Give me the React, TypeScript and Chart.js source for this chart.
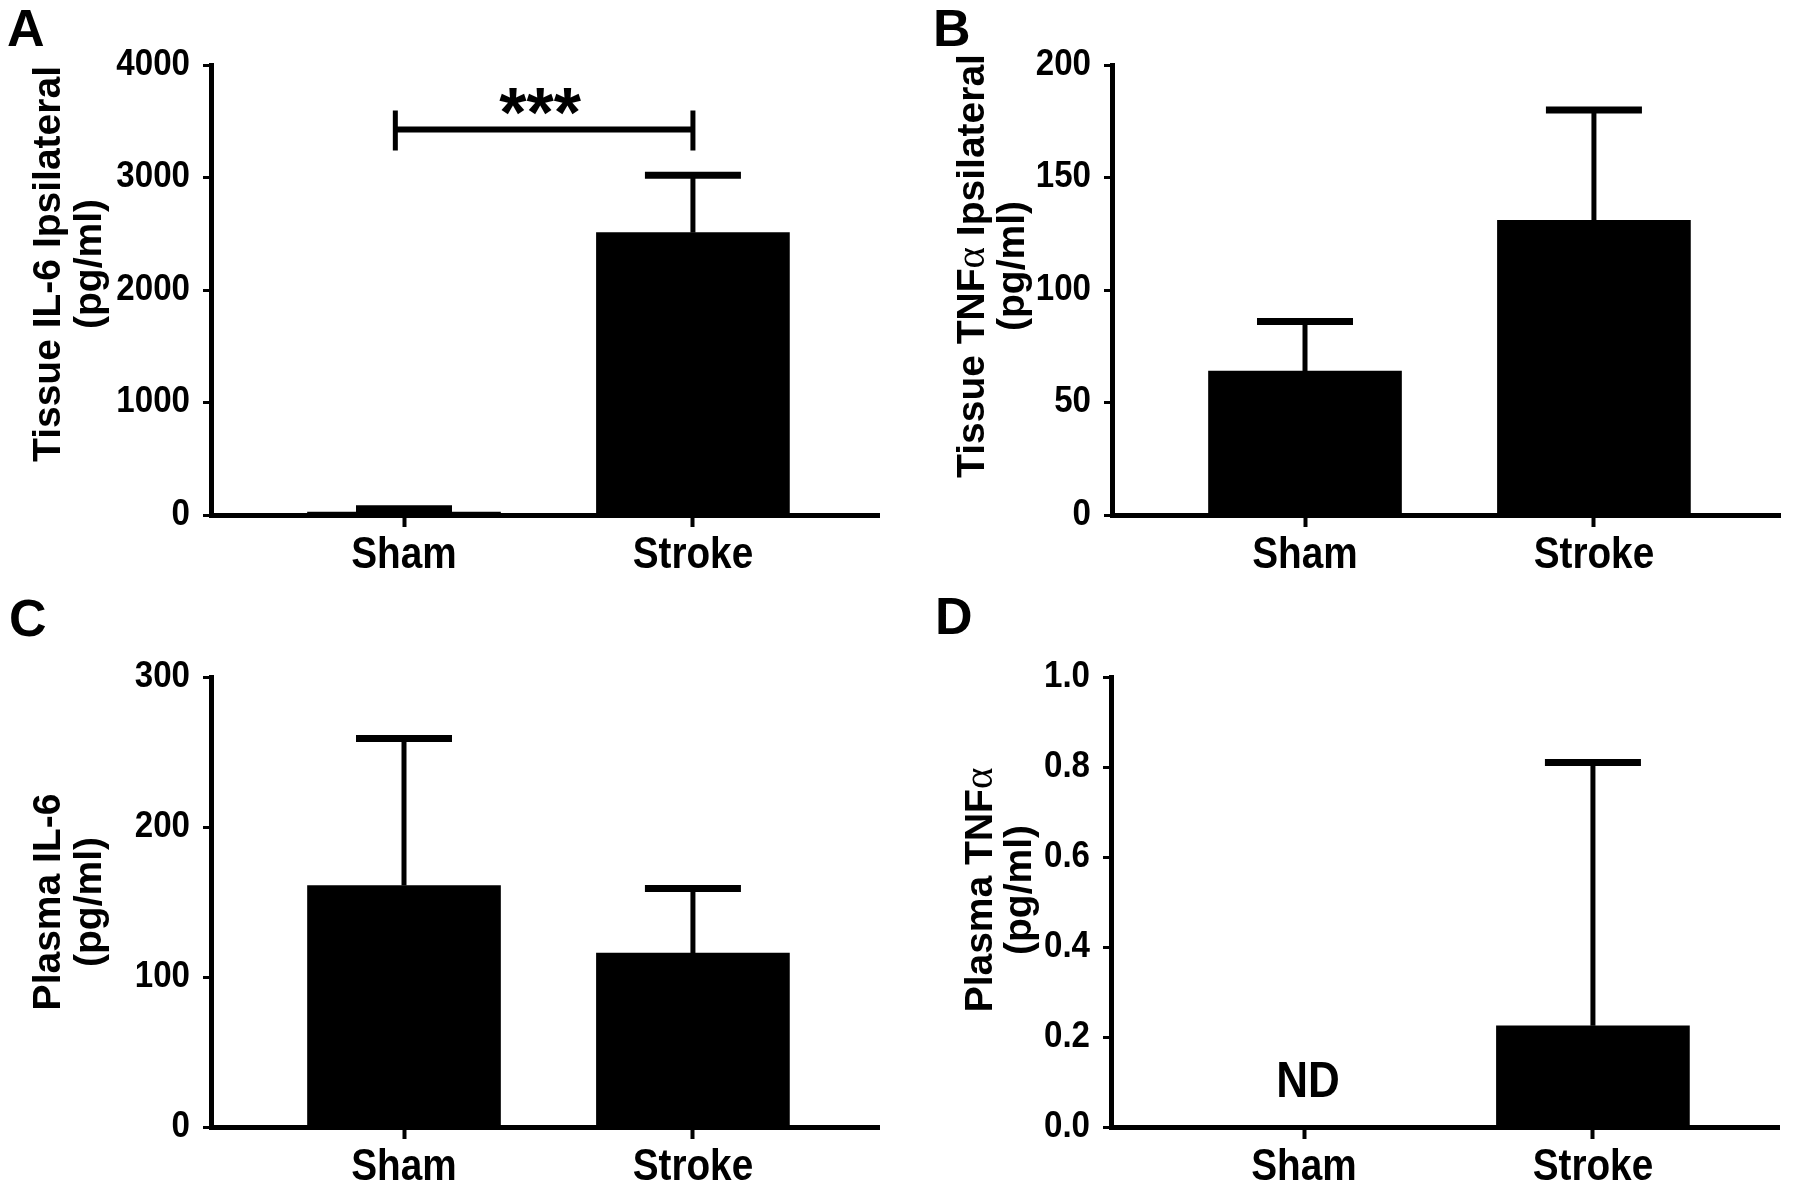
import React, { useEffect, useRef } from 'react';
import { Chart, registerables } from 'chart.js';

Chart.register(...registerables);

// ---------------- data ----------------
const categories = ['Sham', 'Stroke'];
const categoryX = [1, 2];

const tissueIL6Means = [25, 2510];
const tissueIL6Upper = [55, 3020];
const tissueIL6Ticks = [0, 1000, 2000, 3000, 4000];

const tissueTNFMeans = [64, 131];
const tissueTNFUpper = [86, 180];
const tissueTNFTicks = [0, 50, 100, 150, 200];

const plasmaIL6Means = [161, 116];
const plasmaIL6Upper = [259, 159];
const plasmaIL6Ticks = [0, 100, 200, 300];

const plasmaTNFMeans: (number | null)[] = [null, 0.225];
const plasmaTNFUpper: (number | null)[] = [null, 0.81];
const plasmaTNFTicks = [0, 0.2, 0.4, 0.6, 0.8, 1.0];

// significance annotation for panel A (Sham vs Stroke)
const sigFrom = 0.97;
const sigTo = 2;
const sigLevel = 3427;
const sigTop = 3596;
const sigBottom = 3240;
const sigLabel = '***';
const sigLabelBaseline = 3360;

// not-detected annotation for panel D
const ndLabel = 'ND';
const ndIndex = 0;
const ndValue = 0.098;

// ---------------- styles ----------------
const SANS = '"Liberation Sans", Arial, sans-serif';
const SERIF = '"Liberation Serif", "DejaVu Serif", serif';
const CONDENSE = 0.88;

type Seg = { t: string; font?: string };

type PanelCfg = {
  letter: string;
  title: Seg[][];
  means: (number | null)[];
  upper: (number | null)[];
  ticks: number[];
  decimals: number;
  canvas: { x: number; y: number; w: number; h: number };
  area: { l: number; t: number; r: number; b: number };
  letterPos: { x: number; y: number };
  titleX: number[];
  titleY: number;
  sig?: boolean;
  nd?: boolean;
};

const TITLE_FONT = `bold 39px ${SANS}`;
const ALPHA_FONT = `normal 41px ${SERIF}`;

const panels: PanelCfg[] = [
  {
    letter: 'A',
    title: [[{ t: 'Tissue IL-6 Ipsilateral' }], [{ t: '(pg/ml)' }]],
    means: tissueIL6Means,
    upper: tissueIL6Upper,
    ticks: tissueIL6Ticks,
    decimals: 0,
    canvas: { x: 0, y: 0, w: 900, h: 596 },
    area: { l: 211, t: 65, r: 879, b: 515 },
    letterPos: { x: 7, y: 46 },
    titleX: [49, 90],
    titleY: 264,
    sig: true,
  },
  {
    letter: 'B',
    title: [[{ t: 'Tissue TNF' }, { t: 'α', font: ALPHA_FONT }, { t: ' Ipsilateral' }], [{ t: '(pg/ml)' }]],
    means: tissueTNFMeans,
    upper: tissueTNFUpper,
    ticks: tissueTNFTicks,
    decimals: 0,
    canvas: { x: 900, y: 0, w: 900, h: 596 },
    area: { l: 212, t: 65, r: 880, b: 515 },
    letterPos: { x: 33, y: 46 },
    titleX: [73, 113],
    titleY: 266,
  },
  {
    letter: 'C',
    title: [[{ t: 'Plasma IL-6' }], [{ t: '(pg/ml)' }]],
    means: plasmaIL6Means,
    upper: plasmaIL6Upper,
    ticks: plasmaIL6Ticks,
    decimals: 0,
    canvas: { x: 0, y: 596, w: 900, h: 595 },
    area: { l: 211, t: 81, r: 879, b: 531 },
    letterPos: { x: 9, y: 40 },
    titleX: [49, 90],
    titleY: 306,
  },
  {
    letter: 'D',
    title: [[{ t: 'Plasma TNF' }, { t: 'α', font: ALPHA_FONT }], [{ t: '(pg/ml)' }]],
    means: plasmaTNFMeans,
    upper: plasmaTNFUpper,
    ticks: plasmaTNFTicks,
    decimals: 1,
    canvas: { x: 900, y: 596, w: 900, h: 595 },
    area: { l: 211, t: 81, r: 879, b: 531 },
    letterPos: { x: 35, y: 38 },
    titleX: [81, 120],
    titleY: 294,
    nd: true,
  },
];

const X_MIN = 0.332;
const X_MAX = 2.644;

function drawRotatedTitle(ctx: CanvasRenderingContext2D, segs: Seg[], cx: number, cy: number) {
  ctx.save();
  ctx.translate(cx, cy);
  ctx.rotate(-Math.PI / 2);
  ctx.textBaseline = 'middle';
  ctx.textAlign = 'left';
  ctx.fillStyle = '#000';
  let total = 0;
  const widths = segs.map((s) => {
    ctx.font = s.font || TITLE_FONT;
    const w = ctx.measureText(s.t).width;
    total += w;
    return w;
  });
  let x = -total / 2;
  segs.forEach((s, i) => {
    ctx.font = s.font || TITLE_FONT;
    ctx.fillText(s.t, x, 0);
    x += widths[i];
  });
  ctx.restore();
}

function drawCondensed(
  ctx: CanvasRenderingContext2D,
  text: string,
  x: number,
  y: number,
  font: string,
  align: CanvasTextAlign,
  factor = CONDENSE
) {
  ctx.save();
  ctx.translate(x, y);
  ctx.scale(factor, 1);
  ctx.font = font;
  ctx.textAlign = align;
  ctx.textBaseline = 'middle';
  ctx.fillStyle = '#000';
  ctx.fillText(text, 0, 0);
  ctx.restore();
}

function Panel({ cfg }: { cfg: PanelCfg }) {
  const ref = useRef<HTMLCanvasElement>(null);

  useEffect(() => {
    const canvas = ref.current;
    if (!canvas) return;
    const { w, h } = cfg.canvas;
    const area = cfg.area;

    const overlay = {
      id: 'overlay' + cfg.letter,
      afterDatasetsDraw(chart: any) {
        const ctx: CanvasRenderingContext2D = chart.ctx;
        const xs = chart.scales.x;
        const ys = chart.scales.y;
        ctx.save();
        ctx.strokeStyle = '#000';
        ctx.lineCap = 'butt';
        cfg.means.forEach((m, i) => {
          const u = cfg.upper[i];
          if (m == null || u == null) return;
          const px = xs.getPixelForValue(categoryX[i]);
          const p0 = ys.getPixelForValue(m);
          const p1 = ys.getPixelForValue(u);
          ctx.lineWidth = 5;
          ctx.beginPath();
          ctx.moveTo(px, p0);
          ctx.lineTo(px, p1);
          ctx.stroke();
          ctx.lineWidth = 7;
          ctx.beginPath();
          ctx.moveTo(px - 48, p1);
          ctx.lineTo(px + 48, p1);
          ctx.stroke();
        });
        ctx.restore();
      },
      afterDraw(chart: any) {
        const ctx: CanvasRenderingContext2D = chart.ctx;
        const xs = chart.scales.x;
        const ys = chart.scales.y;
        ctx.save();
        ctx.fillStyle = '#000';
        ctx.strokeStyle = '#000';
        // panel letter
        ctx.font = `bold 52px ${SANS}`;
        ctx.textAlign = 'left';
        ctx.textBaseline = 'alphabetic';
        ctx.fillText(cfg.letter, cfg.letterPos.x, cfg.letterPos.y);
        // tick labels (condensed bold)
        const yFont = `bold 36px ${SANS}`;
        cfg.ticks.forEach((v) => {
          drawCondensed(ctx, v.toFixed(cfg.decimals), ys.left + ys.width - 21, ys.getPixelForValue(v), yFont, 'right', 0.92);
        });
        const xFont = `bold 44px ${SANS}`;
        categoryX.forEach((v, i) => {
          drawCondensed(ctx, categories[i], xs.getPixelForValue(v), xs.top + 41, xFont, 'center');
        });
        // y title
        cfg.title.forEach((line, i) => drawRotatedTitle(ctx, line, cfg.titleX[i], cfg.titleY));
        // significance bracket
        if (cfg.sig) {
          const x1 = xs.getPixelForValue(sigFrom);
          const x2 = xs.getPixelForValue(sigTo);
          const yl = ys.getPixelForValue(sigLevel);
          const yt = ys.getPixelForValue(sigTop);
          const yb = ys.getPixelForValue(sigBottom);
          ctx.lineWidth = 6;
          ctx.beginPath();
          ctx.moveTo(x1, yl);
          ctx.lineTo(x2, yl);
          ctx.stroke();
          ctx.lineWidth = 5;
          ctx.beginPath();
          ctx.moveTo(x1, yt);
          ctx.lineTo(x1, yb);
          ctx.moveTo(x2, yt);
          ctx.lineTo(x2, yb);
          ctx.stroke();
          ctx.font = `bold 70px ${SANS}`;
          ctx.textAlign = 'center';
          ctx.textBaseline = 'alphabetic';
          ctx.fillText(sigLabel, (x1 + x2) / 2 - 4, ys.getPixelForValue(sigLabelBaseline));
        }
        if (cfg.nd) {
          drawCondensed(ctx, ndLabel, xs.getPixelForValue(categoryX[ndIndex]) + 4, ys.getPixelForValue(ndValue), `bold 50px ${SANS}`, 'center');
        }
        ctx.restore();
      },
    };

    const data = cfg.means.map((m, i) => ({ x: categoryX[i], y: m }));

    const chart = new Chart(canvas, {
      type: 'bar',
      data: {
        datasets: [
          {
            data: data as any,
            backgroundColor: '#000',
            borderWidth: 0,
            barThickness: 193,
          },
        ],
      },
      options: {
        animation: false,
        responsive: false,
        maintainAspectRatio: false,
        devicePixelRatio: 1,
        layout: { padding: { left: 0, top: area.t, right: w - area.r, bottom: 0 } },
        plugins: { legend: { display: false }, tooltip: { enabled: false }, title: { display: false } },
        scales: {
          x: {
            type: 'linear',
            min: X_MIN,
            max: X_MAX,
            offset: false,
            afterBuildTicks: (scale: any) => {
              scale.ticks = categoryX.map((v) => ({ value: v }));
            },
            afterFit: (scale: any) => {
              scale.height = h - area.b;
            },
            ticks: { display: false, autoSkip: false },
            grid: {
              display: true,
              offset: false,
              drawOnChartArea: false,
              drawTicks: true,
              tickLength: 12,
              tickWidth: 4,
              tickColor: '#000',
              color: '#000',
            },
            border: { display: true, width: 5, color: '#000' },
          },
          y: {
            type: 'linear',
            min: cfg.ticks[0],
            max: cfg.ticks[cfg.ticks.length - 1],
            afterBuildTicks: (scale: any) => {
              scale.ticks = cfg.ticks.map((v) => ({ value: v }));
            },
            afterFit: (scale: any) => {
              scale.width = area.l;
            },
            ticks: { display: false },
            grid: {
              display: true,
              offset: false,
              drawOnChartArea: false,
              drawTicks: true,
              tickLength: 8,
              tickWidth: 3,
              tickColor: '#000',
              color: '#000',
            },
            border: { display: true, width: 5, color: '#000' },
          },
        },
      },
      plugins: [overlay],
    } as any);

    return () => chart.destroy();
  }, [cfg]);

  return (
    <div
      style={{
        position: 'absolute',
        left: cfg.canvas.x,
        top: cfg.canvas.y,
        width: cfg.canvas.w,
        height: cfg.canvas.h,
      }}
    >
      <canvas
        ref={ref}
        width={cfg.canvas.w}
        height={cfg.canvas.h}
        style={{ width: cfg.canvas.w, height: cfg.canvas.h, display: 'block' }}
      />
    </div>
  );
}

export default function App() {
  return (
    <div style={{ position: 'absolute', left: 0, top: 0, width: 1800, height: 1191, background: '#fff', overflow: 'hidden' }}>
      {panels.map((p) => (
        <Panel key={p.letter} cfg={p} />
      ))}
    </div>
  );
}
